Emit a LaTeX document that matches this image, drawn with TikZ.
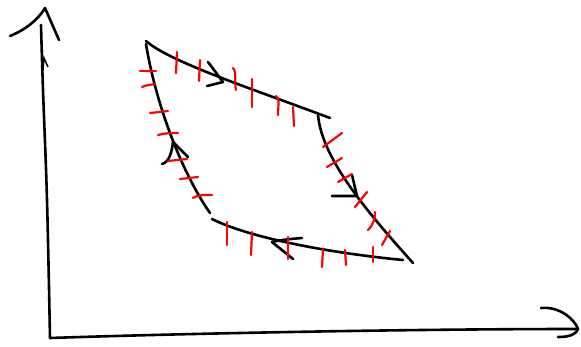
\documentclass[tikz,border=0pt]{standalone}
\begin{document}
\begin{tikzpicture}[x=1pt,y=-1pt,
  ink/.style={line width=2.6pt,line cap=round,line join=round,black},
  redtick/.style={line width=2.2pt,line cap=round,red}]
\useasboundingbox (0,0) rectangle (581,347);
% axes
\draw[ink] plot[smooth,tension=0.6] coordinates {(41,25) (43,90) (47,200) (50,338)};
\draw[ink] (50,338) .. controls (200,333) and (420,329) .. (578,329);
\draw[ink] (10,36) .. controls (25,30) and (38,20) .. (45,8) -- (59,40);
\draw[ink] (541,308) .. controls (560,306) and (575,320) .. (578,329) .. controls (575,336) and (566,337) .. (558,337);
\draw[line width=1.5pt] (43,70) -- (44,58) -- (48,67);
% cycle
\draw[ink] (146,41) .. controls (170,62) and (250,88) .. (330,118);
\draw[ink] (146,44) .. controls (155,100) and (180,170) .. (210,213);
\draw[ink] (318,115) .. controls (322,160) and (370,215) .. (413,263);
\draw[ink] (212,219) .. controls (250,238) and (330,253) .. (403,260);
% arrows on cycle
\draw[ink] (208,62) -- (223,82) -- (207,86);
\draw[ink] (162,164) .. controls (170,162) and (172,150) .. (173,142) -- (188,157);
\draw[ink] (352,175) -- (357,196) -- (332,196);
\draw[ink] (302,238) .. controls (290,239) and (280,240) .. (272,242) -- (293,259);
% red ticks: top
\draw[redtick] (177,52) -- (176,73);
\draw[redtick] (200,60) -- (199,81);
\draw[redtick] (233,68) .. controls (237,72) and (234,82) .. (236,90);
\draw[redtick] (252,79) -- (252,107);
\draw[redtick] (276,96) .. controls (280,98) and (278,106) .. (278,115);
\draw[redtick] (293,107) -- (294,126);
% red ticks: left
\draw[redtick] (140,71) -- (156,71);
\draw[redtick] (142,87) .. controls (146,85) and (150,85) .. (155,84);
\draw[redtick] (150,113) -- (168,111);
\draw[redtick] (158,135) .. controls (165,133) and (172,133) .. (178,133);
\draw[redtick] (168,161) -- (187,159);
\draw[redtick] (180,179) -- (198,177);
\draw[redtick] (193,198) .. controls (200,194) and (206,195) .. (212,195);
% red ticks: right
\draw[redtick] (323,147) -- (342,133);
\draw[redtick] (327,167) -- (342,158);
\draw[redtick] (338,182) -- (352,174);
\draw[redtick] (355,207) -- (367,192);
\draw[redtick] (368,230) .. controls (374,224) and (375,218) .. (375,212);
\draw[redtick] (382,245) -- (390,231);
% red ticks: bottom
\draw[redtick] (227,222) -- (227,245);
\draw[redtick] (252,232) -- (251,255);
\draw[redtick] (288,237) -- (288,259);
\draw[redtick] (323,249) -- (322,267);
\draw[redtick] (345,250) -- (346,265);
\draw[redtick] (373,247) -- (373,262);
\end{tikzpicture}
\end{document}
